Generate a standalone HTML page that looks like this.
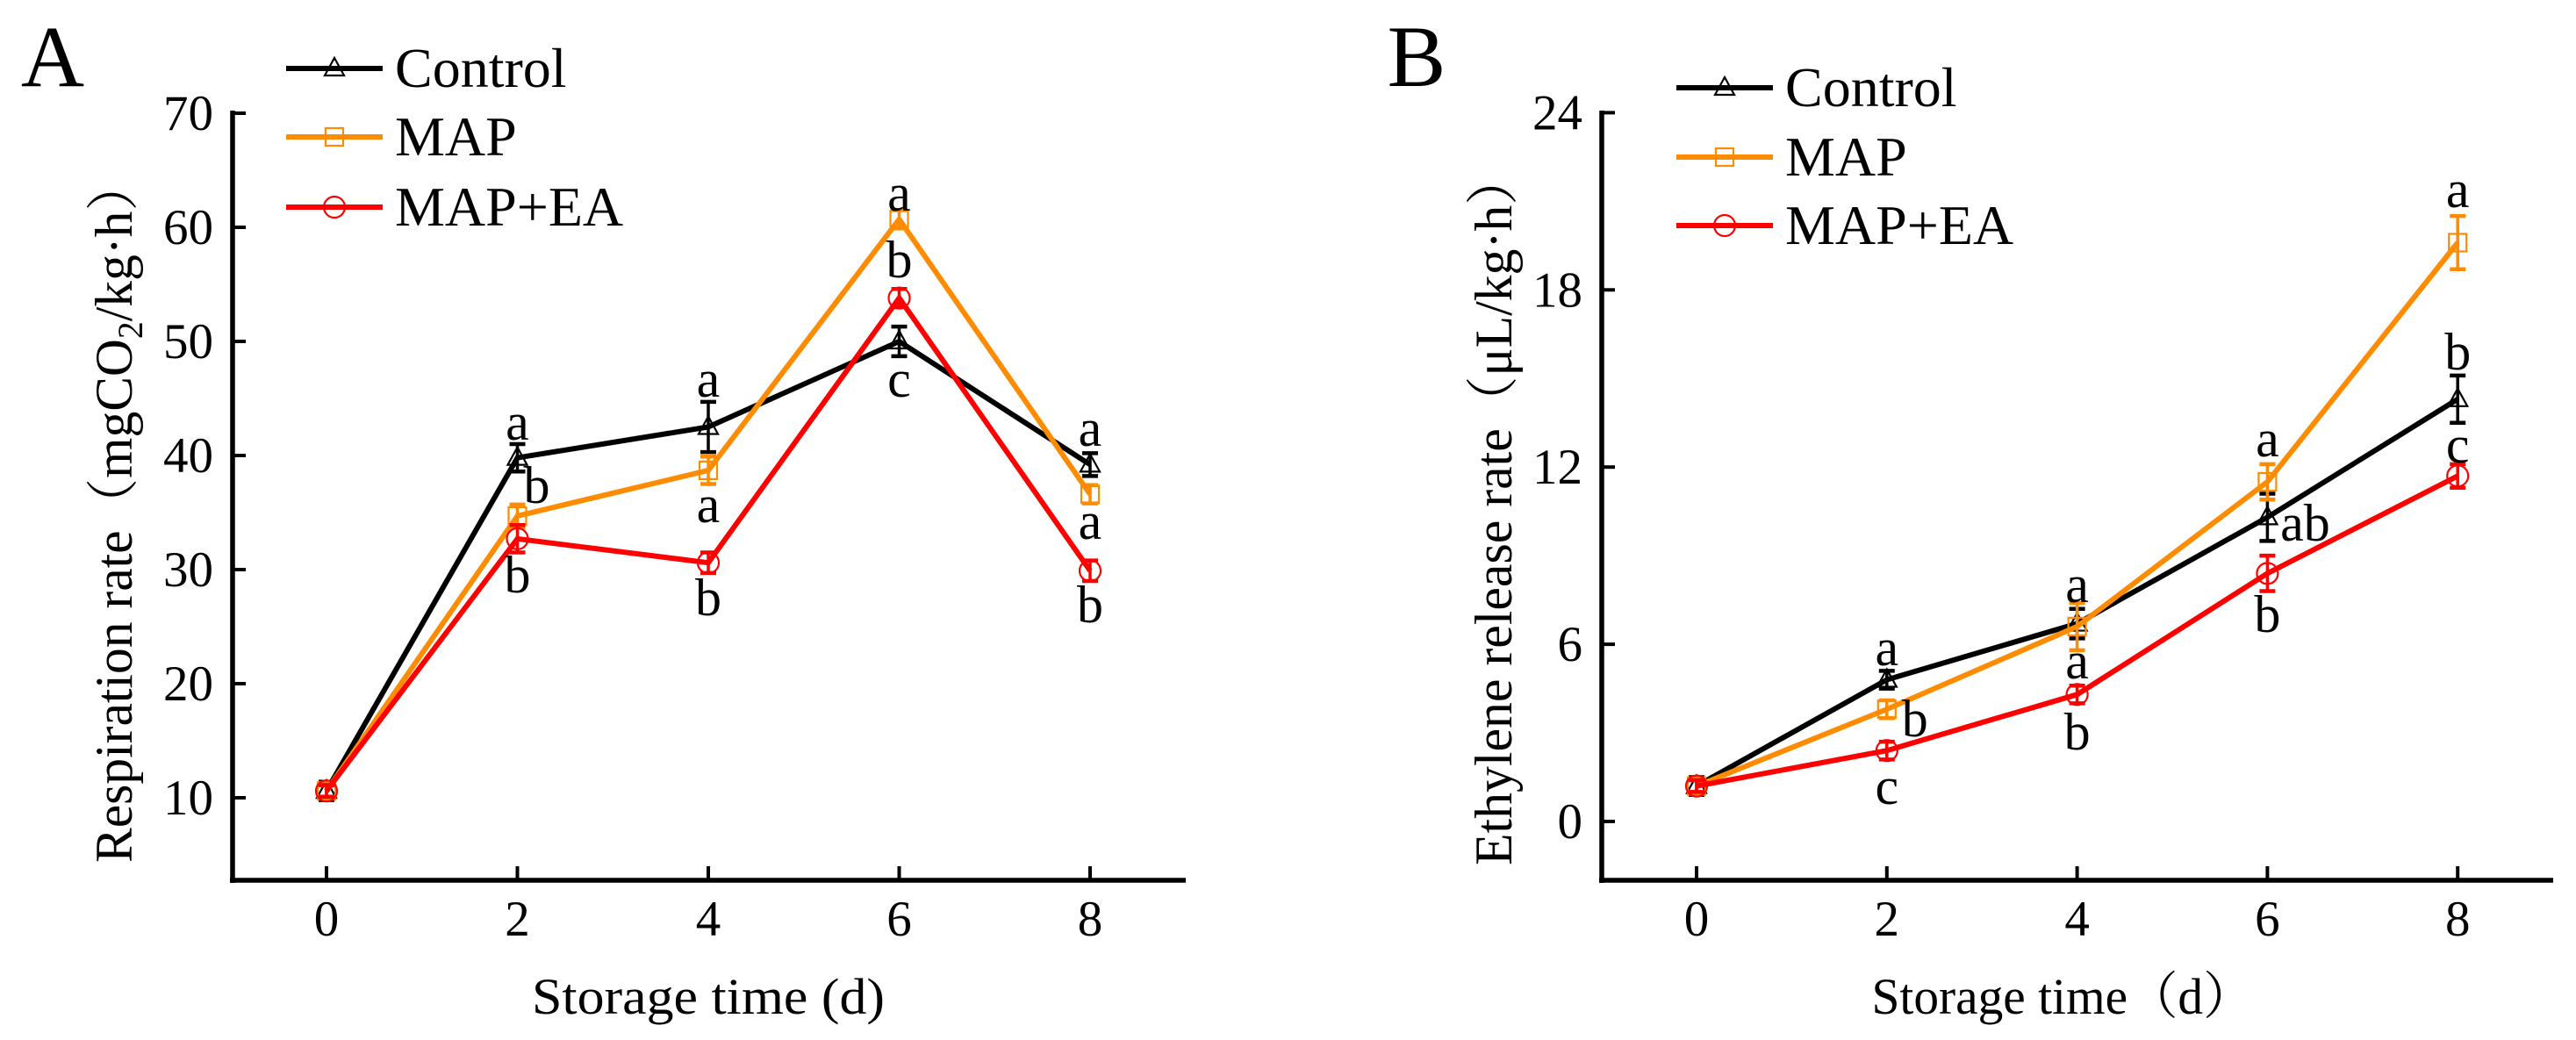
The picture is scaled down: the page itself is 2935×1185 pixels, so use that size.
<!DOCTYPE html>
<html><head><meta charset="utf-8"><style>
html,body{margin:0;padding:0;background:#fff;overflow:hidden;}
svg{display:block;font-family:"Liberation Serif","Noto Serif CJK SC",serif;}
</style></head><body>
<svg id="fig" width="2935" height="1185" viewBox="0 0 2935 1185" xmlns="http://www.w3.org/2000/svg"></svg>
<script>
const days=[0,2,4,6,8];
const seriesNames=["Control","MAP","MAP+EA"];
const aControl=[10.6,39.8,42.5,50.0,39.2];
const aMAP=[10.6,34.7,38.7,60.7,36.6];
const aEA=[10.6,32.7,30.6,53.8,29.9];
const aErrControl=[0.8,1.2,2.2,1.3,1.0];
const aErrMAP=[0.5,1.0,1.2,0.8,0.8];
const aErrEA=[0.5,1.2,0.9,0.8,0.9];
const aTicks=[10,20,30,40,50,60,70];
const aLetters=[[1,"a",484],[1,"b",556],[1,"b",658],[2,"a",435],[2,"a",578],[2,"b",684],[3,"a",223],[3,"b",299],[3,"c",435],[4,"a",491],[4,"a",597],[4,"b",692]];
const bControl=[1.2,4.8,6.7,10.3,14.3];
const bMAP=[1.2,3.8,6.6,11.5,19.6];
const bEA=[1.2,2.4,4.3,8.4,11.7];
const bErrControl=[0.3,0.3,0.5,0.8,0.8];
const bErrMAP=[0.2,0.3,0.8,0.6,0.9];
const bErrEA=[0.2,0.3,0.3,0.6,0.4];
const bTicks=[0,6,12,18,24];
const bLetters=[[1,"a",741],[1,"b",822],[1,"c",899],[2,"a",669],[2,"a",756],[2,"b",837],[3,"a",503],[3,"ab",599],[3,"b",703],[4,"a",219],[4,"b",404],[4,"c",510]];
const colors=["#000000","#ff8c00","#ff0000"];
const markers=["tri","sq","circ"];
const NS="http://www.w3.org/2000/svg";
const svg=document.getElementById('fig');
function mk(tag,attrs,parent,text){const e=document.createElementNS(NS,tag);for(const k in attrs)e.setAttribute(k,attrs[k]);if(text!==undefined)e.textContent=text;(parent||svg).appendChild(e);return e;}
function marker(g,type,x,y,c){
  if(type==="tri") return mk('polygon',{points:`${x},${y-12} ${x-11},${y+8} ${x+11},${y+8}`,fill:'none',stroke:c,'stroke-width':2.2},g);
  if(type==="sq") return mk('rect',{x:x-10,y:y-10,width:20,height:20,fill:'none',stroke:c,'stroke-width':2.2},g);
  return mk('circle',{cx:x,cy:y,r:12,fill:'none',stroke:c,'stroke-width':2.2},g);
}
function panel(o){
  const g=mk('g',{});
  
  
  const X=d=>o.x0+(d/2)*o.dx;
  const Y=v=>o.yBase-(v-o.vBase)*o.py;
  const axes=mk('g',{},g);
  
  
  mk('line',{x1:o.ax,y1:o.yTop-2,x2:o.ax,y2:1006,stroke:'#000','stroke-width':5.5},axes);
  mk('line',{x1:o.ax-3,y1:1003,x2:o.axEnd,y2:1003,stroke:'#000','stroke-width':5.5},axes);
  o.ticks.forEach(t=>{
    mk('line',{x1:o.ax,y1:Y(t),x2:o.ax+15,y2:Y(t),stroke:'#000','stroke-width':4},axes);
    const tl=mk('text',{x:o.ax-22,y:Y(t)+19,'text-anchor':'end','font-size':57},axes,String(t));
    
    
  });
  days.forEach(d=>{
    mk('line',{x1:X(d),y1:1003,x2:X(d),y2:987,stroke:'#000','stroke-width':4},axes);
    const tl=mk('text',{x:X(d),y:1066,'text-anchor':'middle','font-size':57},axes,String(d));
    
    
  });
  const xt=mk('text',{x:o.xtX-o.xtW/2,y:1155,'font-size':58,textLength:o.xtW,lengthAdjust:'spacingAndGlyphs'},g,o.xTitle);
  
  
  const yt=mk('text',{x:-o.ytW/2,y:0,'font-size':60,textLength:o.ytW,lengthAdjust:'spacingAndGlyphs',transform:`translate(${o.ytX},${o.ytY}) rotate(-90)`},g);
  
  
  o.yTitle(yt);
  const pl=mk('text',{x:o.plX,y:98,'font-size':100,'text-anchor':'middle'},g,o.label);
  
  
  o.series.forEach((vals,i)=>{
    const sg=mk('g',{},g);
    
    
    const errs=o.errs[i];
    vals.forEach((v,j)=>{
      const x=X(days[j]),e=errs[j]*o.py;
      const ec=i===0?'#000':colors[i];
      mk('line',{x1:x,y1:Y(v)-e,x2:x,y2:Y(v)+e,stroke:ec,'stroke-width':3.5},sg);
      mk('line',{x1:x-9,y1:Y(v)-e,x2:x+9,y2:Y(v)-e,stroke:ec,'stroke-width':4.5},sg);
      mk('line',{x1:x-9,y1:Y(v)+e,x2:x+9,y2:Y(v)+e,stroke:ec,'stroke-width':4.5},sg);
    });
    const ln=mk('polyline',{points:vals.map((v,j)=>X(days[j])+','+Y(v)).join(' '),fill:'none',stroke:colors[i],'stroke-width':6},sg);
    
    
    vals.forEach((v,j)=>{
      const m=marker(sg,markers[i],X(days[j]),Y(v),colors[i]);
      
      
    });
  });
  o.letters.forEach(([j,t,y],k)=>{
    let dx=0;
    if(t==="ab") dx=43;
    if(j===1 && k===1) dx=o.bShift;
    const l=mk('text',{x:X(days[j])+dx,y:y+17,'text-anchor':'middle','font-size':60},g,t);
    
    
  });
  const lg=mk('g',{},g);
  
  
  seriesNames.forEach((n,i)=>{
    const y=o.legY[i];
    const e=mk('g',{},lg);
    
    
    mk('line',{x1:o.legX,y1:y,x2:o.legX+110,y2:y,stroke:colors[i],'stroke-width':6},e);
    marker(e,markers[i],o.legX+55,y,colors[i]);
    mk('text',{x:o.legX+124,y:y+21,'font-size':64},e,n);
  });
}
panel({name:'panel-a-respiration',x0:372,dx:217.5,yBase:909,vBase:10,py:13.0,yTop:128,ax:265,axEnd:1351,ticks:aTicks,
  xTitle:'Storage time (d)',xtX:807,xtW:402,ytX:150,ytY:582,ytW:802,label:'A',plX:60,
  yTitle:t=>{t.appendChild(document.createTextNode('Respiration rate（mgCO'));mk('tspan',{'font-size':40,dy:12},t,'2');mk('tspan',{dy:-12},t,'/kg·h）');},
  series:[aControl,aMAP,aEA],errs:[aErrControl,aErrMAP,aErrEA],letters:aLetters,bShift:22,legX:326,legY:[78,156,236]});
panel({name:'panel-b-ethylene',x0:1933,dx:216.8,yBase:936,vBase:0,py:33.65,yTop:128,ax:1825,axEnd:2909,ticks:bTicks,
  xTitle:'Storage time（d）',xtX:2350,xtW:435,ytX:1722,ytY:580,ytW:812,label:'B',plX:1614,
  yTitle:t=>{t.textContent='Ethylene release rate（μL/kg·h）';},
  series:[bControl,bMAP,bEA],errs:[bErrControl,bErrMAP,bErrEA],letters:bLetters,bShift:32,legX:1910,legY:[100,179,257]});
</script>
</body></html>
